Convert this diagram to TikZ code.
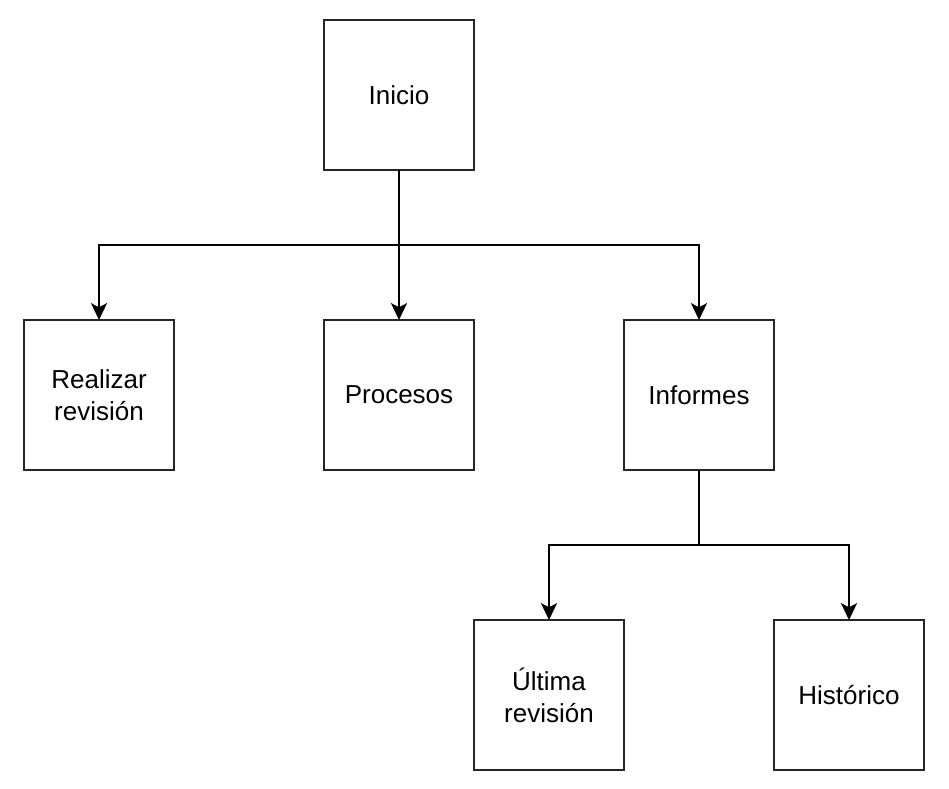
\documentclass[tikz,border=0pt]{standalone}
\usepackage{fontspec}
\setmainfont{Liberation Sans}
\usetikzlibrary{positioning,calc,arrows.meta}

\begin{document}
\begin{tikzpicture}[
    box/.style={draw=black!85, rectangle, fill=white, line width=1.3pt, outer sep=0pt,
        minimum width=3.75cm, minimum height=3.75cm, align=center,
        font=\fontsize{18.5}{22.7}\selectfont},
    link/.style={line width=1.4pt, -{Stealth[length=0.42cm, width=0.4cm, inset=0.1cm]}},
    node distance=3.75cm]
    \useasboundingbox (0,0) rectangle (23.725,19.725);

    \node [box] (inicio) at (9.975,17.35) {Inicio};
    \node [box, below=of inicio] (procesos) {Procesos};
    \node [box, left=of procesos] (realizar) {Realizar\\revisión};
    \node [box, right=of procesos] (informes) {Informes};
    \node [box, below=of informes, xshift=-3.75cm] (ultima) {Última\\revisión};
    \node [box, right=of ultima] (historico) {Histórico};

    % reparto desde Inicio
    \coordinate (fork1) at ($(inicio.south)!0.5!(procesos.north)$);
    \draw [link] (inicio) -- (procesos);
    \draw [link] (fork1) -| (realizar.north);
    \draw [link] (fork1) -| (informes.north);

    % reparto desde Informes
    \coordinate (fork2) at ($(informes.south)!0.5!(informes.south |- ultima.north)$);
    \draw [line width=1.4pt] (informes) -- (fork2);
    \draw [link] (fork2) -| (ultima.north);
    \draw [link] (fork2) -| (historico.north);
\end{tikzpicture}
\end{document}
